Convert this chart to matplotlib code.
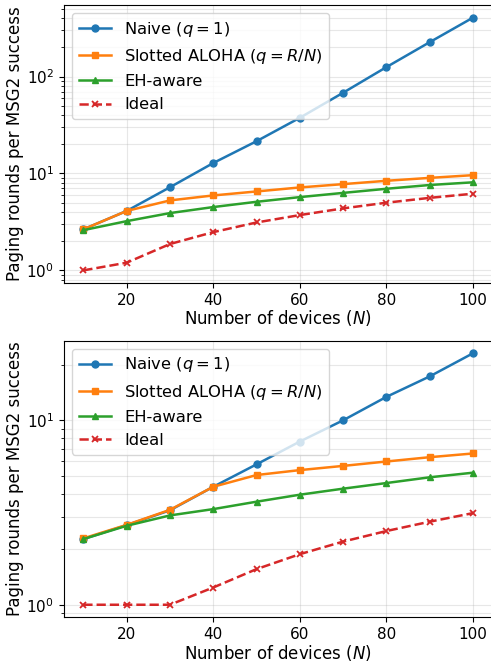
import matplotlib
matplotlib.use("Agg")
import matplotlib.pyplot as plt

N = [10, 20, 30, 40, 50, 60, 70, 80, 90, 100]

# Top panel
naive_top = [2.65, 4.1, 7.2, 12.8, 21.5, 37.5, 68, 125, 226, 405]
aloha_top = [2.65, 4.1, 5.27, 5.93, 6.52, 7.17, 7.76, 8.4, 9.0, 9.6]
eh_top = [2.6, 3.22, 3.9, 4.5, 5.1, 5.7, 6.3, 6.95, 7.6, 8.1]
ideal_top = [1.0, 1.2, 1.87, 2.48, 3.12, 3.72, 4.36, 4.99, 5.6, 6.18]

# Bottom panel
naive_bot = [2.27, 2.7, 3.25, 4.36, 5.77, 7.67, 10.0, 13.4, 17.3, 23.1]
aloha_bot = [2.29, 2.71, 3.27, 4.36, 5.05, 5.37, 5.66, 5.98, 6.31, 6.61]
eh_bot = [2.27, 2.68, 3.05, 3.3, 3.62, 3.95, 4.26, 4.57, 4.91, 5.2]
ideal_bot = [1.0, 1.0, 1.0, 1.24, 1.56, 1.88, 2.2, 2.51, 2.82, 3.14]

labels = [r"Naive ($q=1$)", r"Slotted ALOHA ($q=R/N$)", "EH-aware", "Ideal"]

plt.rcParams["font.size"] = 12
plt.rcParams["xtick.labelsize"] = 11
plt.rcParams["ytick.labelsize"] = 11
fig = plt.figure(figsize=(4.91, 6.65), dpi=100)
ax1 = fig.add_axes([0.130, 0.5744, 0.873, 0.4181])
ax2 = fig.add_axes([0.130, 0.0717, 0.873, 0.4160])

for ax, series in [(ax1, (naive_top, aloha_top, eh_top, ideal_top)),
                   (ax2, (naive_bot, aloha_bot, eh_bot, ideal_bot))]:
    ax.plot(N, series[0], "-o", color="#1f77b4", lw=1.8, ms=5, label=labels[0])
    ax.plot(N, series[1], "-s", color="#ff7f0e", lw=1.8, ms=5, label=labels[1])
    ax.plot(N, series[2], "-^", color="#2ca02c", lw=1.8, ms=5, label=labels[2])
    ax.plot(N, series[3], "--x", color="#d62728", lw=1.8, ms=5, mew=1.3, label=labels[3])
    ax.set_yscale("log")
    ax.set_xlabel(r"Number of devices ($N$)", labelpad=0.5)
    ax.set_ylabel("Paging rounds per MSG2 success", labelpad=1.5)
    ax.grid(True, which="both", alpha=0.3)
    ax.legend(loc="upper left", fontsize=11.8, labelspacing=0.5)

fig.savefig("out.png", dpi=100)
